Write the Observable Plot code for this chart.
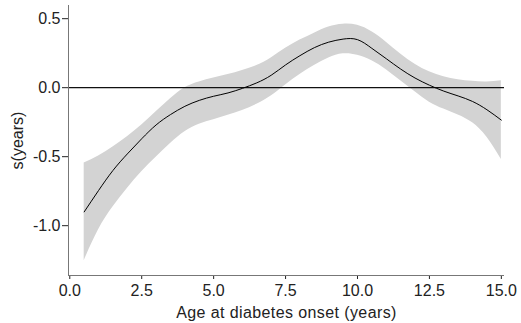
<!DOCTYPE html>
<html>
<head>
<meta charset="utf-8">
<script src="https://cdn.jsdelivr.net/npm/d3@7"></script>
<script src="https://cdn.jsdelivr.net/npm/@observablehq/plot@0.6"></script>
<style>
  html, body { margin: 0; padding: 0; background: #fff; }
  #chart svg { display: block; }
</style>
</head>
<body>
<div id="chart"></div>
<script>
const ages = [0.5,1.0,1.5,2.0,2.5,3.0,3.5,4.0,4.5,5.0,5.5,6.0,6.5,7.0,7.5,8.0,8.5,9.0,9.5,10.0,10.5,11.0,11.5,12.0,12.5,13.0,13.5,14.0,14.5,15.0];
const fit = [-0.90,-0.745,-0.60,-0.48,-0.37,-0.27,-0.195,-0.135,-0.092,-0.062,-0.038,-0.005,0.035,0.09,0.165,0.232,0.29,0.33,0.352,0.348,0.285,0.21,0.135,0.07,0.018,-0.025,-0.06,-0.10,-0.16,-0.235];
const upper = [-0.546,-0.495,-0.43,-0.355,-0.27,-0.175,-0.08,0.0,0.042,0.07,0.095,0.125,0.16,0.215,0.285,0.345,0.395,0.44,0.46,0.452,0.405,0.33,0.244,0.17,0.115,0.08,0.058,0.046,0.042,0.05];
const lower = [-1.254,-1.03,-0.865,-0.73,-0.61,-0.505,-0.405,-0.32,-0.265,-0.232,-0.2,-0.165,-0.12,-0.06,0.02,0.095,0.16,0.215,0.245,0.235,0.195,0.13,0.05,-0.03,-0.105,-0.155,-0.198,-0.255,-0.36,-0.52];
const xTicks = [0, 2.5, 5, 7.5, 10, 12.5, 15];
const yTicks = [-1.0, -0.5, 0.0, 0.5];
const xLabel = "Age at diabetes onset (years)";
const yLabel = "s(years)";

const rows = ages.map((a, i) => ({age: a, fit: fit[i], lo: lower[i], hi: upper[i]}));
const fmt = d => d.toFixed(1);
const xMin = -0.045, xMax = 15.11, yMin = -1.361, yMax = 0.5955;

const chart = Plot.plot({
  width: 521,
  height: 323,
  marginLeft: 68,
  marginRight: 17,
  marginTop: 5,
  marginBottom: 48,
  style: {fontFamily: "'Liberation Sans', Arial, sans-serif", fontSize: "16px", color: "#222", background: "#fff"},
  x: {domain: [xMin, xMax], ticks: xTicks, tickFormat: fmt, tickSize: 4, tickPadding: 5, label: xLabel, labelAnchor: "center", labelArrow: "none", labelOffset: 42},
  y: {domain: [yMin, yMax], ticks: yTicks, tickFormat: fmt, tickSize: 6, tickPadding: 2, label: yLabel, labelAnchor: "center", labelArrow: "none", labelOffset: 57},
  marks: [
    Plot.areaY(rows, {x: "age", y1: "lo", y2: "hi", fill: "#d3d3d3", curve: "natural"}),
    Plot.ruleY([0], {stroke: "#111", strokeWidth: 1.2}),
    Plot.lineY(rows, {x: "age", y: "fit", stroke: "#000", strokeWidth: 1, curve: "natural"}),
    Plot.ruleX([xMin], {stroke: "#777", strokeWidth: 1}),
    Plot.ruleY([yMin], {stroke: "#777", strokeWidth: 1})
  ]
});
chart.querySelectorAll("[aria-label='x-axis label'] text").forEach(t => t.setAttribute("letter-spacing", "0.4"));
document.getElementById("chart").appendChild(chart);
</script>
</body>
</html>
